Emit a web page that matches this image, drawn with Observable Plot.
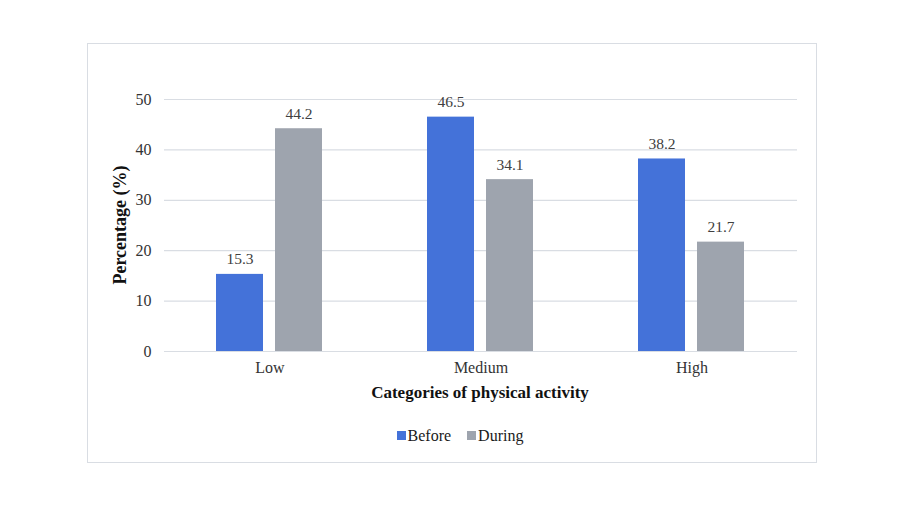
<!DOCTYPE html>
<html>
<head>
<meta charset="utf-8">
<script src="https://cdn.jsdelivr.net/npm/d3@7"></script>
<script src="https://cdn.jsdelivr.net/npm/@observablehq/plot@0.6"></script>
<style>
  html, body { margin: 0; padding: 0; background: #fff; }
  #wrap { position: relative; width: 900px; height: 506px; overflow: hidden; font-family: "Liberation Serif", "Times New Roman", serif; }
  #frame { position: absolute; left: 87px; top: 43px; width: 728px; height: 418px; border: 1px solid #d9dde3; box-sizing: content-box; }
  #chart { position: absolute; left: 0; top: 0; }
  #legend { position: absolute; left: 0; width: 920px; top: 426px; text-align: center; font-size: 16px; color: #1a1a1a; }
  #legend span.item { display: inline-flex; align-items: center; margin: 0 8px; }
  #legend span.sw { display: inline-block; width: 9px; height: 9px; margin-right: 2px; }
</style>
</head>
<body>
<div id="wrap">
  <div id="frame"></div>
  <div id="chart"></div>
  <div id="legend"></div>
</div>
<script>
const categories = ["Low", "Medium", "High"];
const series = ["Before", "During"];
const beforeValues = [15.3, 46.5, 38.2];
const duringValues = [44.2, 34.1, 21.7];
const yTicks = [0, 10, 20, 30, 40, 50];
const colors = ["#4472d9", "#9ea4ae"];

const data = [];
categories.forEach((c, i) => {
  data.push({category: c, series: "Before", value: beforeValues[i]});
  data.push({category: c, series: "During", value: duringValues[i]});
});

const chart = Plot.plot({
  width: 900,
  height: 410,
  marginLeft: 163,
  marginRight: 103,
  marginTop: 99,
  marginBottom: 59,
  style: {fontFamily: "'Liberation Serif', 'Times New Roman', serif", fontSize: "16px", color: "#333", background: "transparent"},
  fx: {domain: categories, padding: 0, label: null},
  x: {domain: series, paddingInner: 0.2, paddingOuter: 0.86, axis: null},
  y: {domain: [0, 50], ticks: yTicks, label: null},
  color: {domain: series, range: colors},
  marks: [
    Plot.ruleY(yTicks, {stroke: "#d9dde3", strokeWidth: 1.2}),
    Plot.axisY({ticks: yTicks, tickSize: 0, tickPadding: 13, label: null, fontSize: 16}),
    Plot.axisFx({anchor: "bottom", tickSize: 0, tickPadding: 10, label: null, fontSize: 16}),
    Plot.barY(data, {fx: "category", x: "series", y: "value", fill: "series"}),
    Plot.text(data, {fx: "category", x: "series", y: "value", text: d => d.value.toFixed(1), dy: -15, fontSize: 15.5, fill: "#404040"})
  ]
});
document.getElementById("chart").appendChild(chart);

// axis titles as SVG text
const svg = d3.select(chart);
svg.append("text")
  .attr("transform", "translate(126,225) rotate(-90)")
  .attr("text-anchor", "middle")
  .attr("font-weight", "bold")
  .attr("font-size", 18)
  .attr("fill", "#111")
  .text("Percentage (%)");
svg.append("text")
  .attr("x", 480)
  .attr("y", 398)
  .attr("text-anchor", "middle")
  .attr("font-weight", "bold")
  .attr("font-size", 17)
  .attr("fill", "#111")
  .text("Categories of physical activity");

const legend = document.getElementById("legend");
series.forEach((s, i) => {
  const item = document.createElement("span");
  item.className = "item";
  const sw = document.createElement("span");
  sw.className = "sw";
  sw.style.background = colors[i];
  item.appendChild(sw);
  item.appendChild(document.createTextNode(s));
  legend.appendChild(item);
});
</script>
</body>
</html>
